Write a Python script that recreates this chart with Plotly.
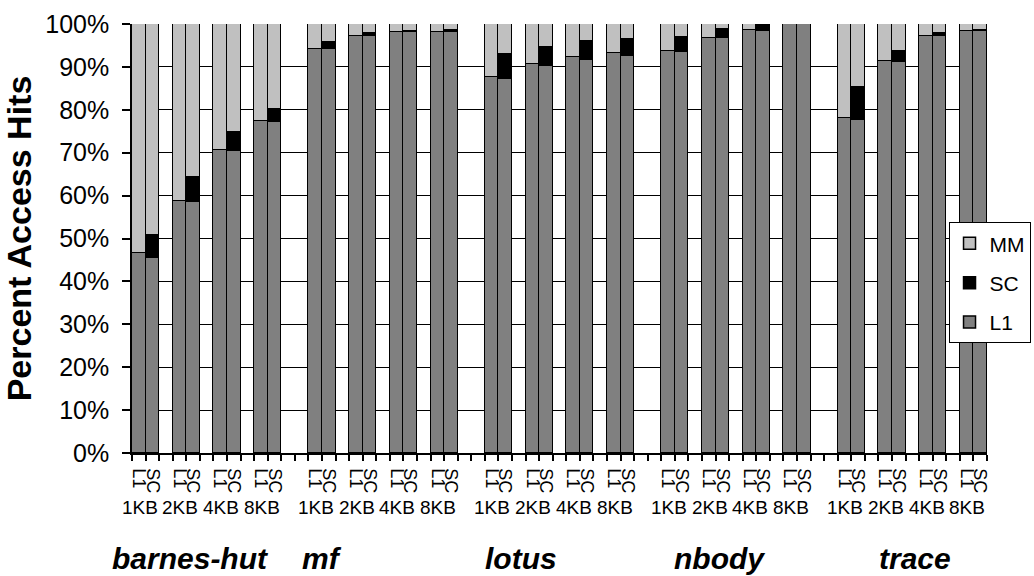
import plotly.graph_objects as go

groups = ["barnes-hut", "mf", "lotus", "nbody", "trace"]
sizes = ["1KB", "2KB", "4KB", "8KB"]
configs = ["L1", "SC"]

# values per group, per size, per config (L1 bar, SC bar)
l1_hits = [
    [46.6, 45.5, 58.8, 58.6, 70.6, 70.4, 77.4, 77.2],
    [94.1, 94.1, 97.3, 97.2, 98.2, 98.2, 98.2, 98.2],
    [87.7, 87.1, 90.6, 90.3, 92.3, 91.6, 93.3, 92.5],
    [93.8, 93.4, 96.7, 96.7, 98.5, 98.4, 99.9, 99.9],
    [78.2, 77.6, 91.4, 91.1, 97.3, 97.1, 98.4, 98.4],
]
sc_hits = [
    [0.0, 5.3, 0.0, 5.8, 0.0, 4.4, 0.0, 3.0],
    [0.0, 1.8, 0.0, 0.7, 0.0, 0.2, 0.0, 0.4],
    [0.0, 5.8, 0.0, 4.4, 0.0, 4.5, 0.0, 4.1],
    [0.0, 3.6, 0.0, 2.1, 0.0, 1.5, 0.0, 0.0],
    [0.0, 7.6, 0.0, 2.6, 0.0, 0.7, 0.0, 0.2],
]

FONT = "Liberation Sans, Arial, sans-serif"
GROUP_STRIDE = 13
PAIR_STRIDE = 3
# horizontal centres of the benchmark names (fraction of plot width)
group_label_pos = [0.068, 0.222, 0.455, 0.687, 0.916]

xs, l1, sc, mm, ticktext = [], [], [], [], []
for g in range(len(groups)):
    for s in range(len(sizes)):
        for b in range(len(configs)):
            k = s * 2 + b
            xs.append(g * GROUP_STRIDE + s * PAIR_STRIDE + b)
            l1.append(l1_hits[g][k])
            sc.append(sc_hits[g][k])
            mm.append(100 - l1_hits[g][k] - sc_hits[g][k])
            ticktext.append(configs[b])

line = dict(color="black", width=1.5)
fig = go.Figure()
fig.add_bar(x=xs, y=l1, name="L1", legendgroup="l1", legendrank=3, width=1,
            marker=dict(color="#808080", line=line))
fig.add_bar(x=xs, y=sc, name="SC", legendgroup="sc", legendrank=2, width=1,
            marker=dict(color="#000000", line=line))
fig.add_bar(x=xs, y=mm, name="MM", legendgroup="mm", legendrank=1, width=1,
            marker=dict(color="#c0c0c0", line=line))

nmax = max(xs) + 1

annotations = []
for g, gname in enumerate(groups):
    for s, sname in enumerate(sizes):
        annotations.append(dict(
            x=g * GROUP_STRIDE + s * PAIR_STRIDE + 0.5, y=-0.128, xref="x", yref="paper",
            text=sname, showarrow=False, xanchor="center", yanchor="middle", xshift=-6,
            font=dict(family=FONT, size=19, color="black")))
    annotations.append(dict(
        x=group_label_pos[g], y=-0.245, xref="paper", yref="paper",
        text="<b><i>" + gname + "</i></b>", showarrow=False, xanchor="center", yanchor="middle",
        font=dict(family=FONT, size=30, color="black")))

fig.update_layout(
    width=1034, height=576,
    margin=dict(l=132, r=47, t=24, b=123, autoexpand=False),
    paper_bgcolor="white", plot_bgcolor="white",
    barmode="stack", bargap=0,
    font=dict(family=FONT, color="black"),
    showlegend=True,
    legend=dict(x=0.955, y=0.397, xanchor="left", yanchor="middle",
                bordercolor="black", borderwidth=1, bgcolor="white",
                font=dict(family=FONT, size=21, color="black"),
                traceorder="grouped", itemwidth=30, tracegroupgap=9),
    annotations=annotations,
)
fig.update_xaxes(
    range=[-0.5, nmax - 0.5], tickmode="array", tickvals=xs, ticktext=ticktext,
    tickangle=90, ticks="", ticklabelstandoff=10,
    tickfont=dict(family=FONT, size=18, color="black"),
    showline=True, linecolor="black", linewidth=1.5, showgrid=False, zeroline=False,
    minor=dict(ticks="outside", tick0=-0.5, dtick=1, ticklen=6, tickcolor="black", tickwidth=1.5, showgrid=False),
)
fig.update_yaxes(
    range=[0, 100], dtick=10, ticksuffix="%", ticks="outside", ticklen=8,
    tickcolor="black", tickwidth=1.5, ticklabelstandoff=8,
    tickfont=dict(family=FONT, size=25, color="black"),
    showgrid=True, gridcolor="black", gridwidth=1,
    showline=True, linecolor="black", linewidth=1.5, zeroline=False,
    title=dict(text="<b>Percent Access Hits</b>", font=dict(family=FONT, size=34, color="black"), standoff=4),
)
fig.write_html("out.html")
